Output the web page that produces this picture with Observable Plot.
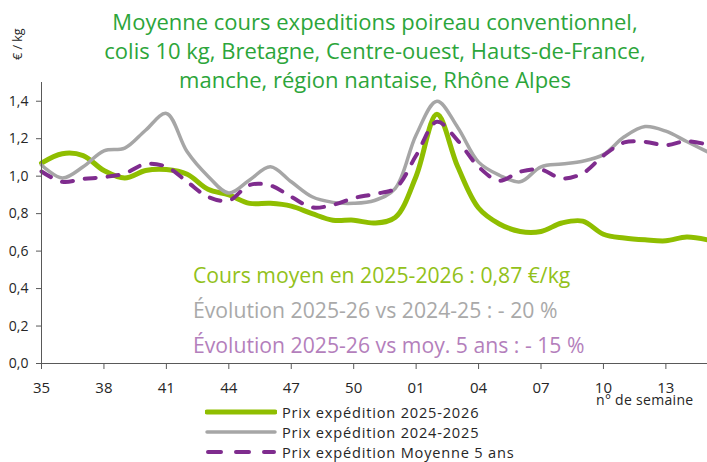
<!DOCTYPE html>
<html>
<head>
<meta charset="utf-8">
<script src="https://cdn.jsdelivr.net/npm/d3@7"></script>
<script src="https://cdn.jsdelivr.net/npm/@observablehq/plot@0.6"></script>
<style>
  html, body { margin: 0; padding: 0; background: #fff; }
  #wrap { position: relative; width: 707px; height: 462px; overflow: hidden; font-family: "Open Sans", sans-serif; }
  #chart { position: absolute; left: 0; top: 0; width: 707px; height: 462px; }
  .abs { position: absolute; white-space: nowrap; }
  #title { left: 0; width: 750px; top: 7px; text-align: center; color: #2ca53a; font-size: 22px; line-height: 29px; }
  #unit { left: 9px; top: 60px; transform: rotate(-90deg); transform-origin: left top; font-size: 12.5px; color: #262626; }
  .note { left: 193px; font-size: 21.2px; line-height: 30px; }
  #xlabel { left: 596px; top: 392px; font-size: 14px; line-height: 16px; color: #262626; letter-spacing: 0.3px; }
  .leg { left: 205px; font-size: 14.6px; line-height: 20px; letter-spacing: 0.8px; color: #262626; display: flex; align-items: center; }
  .leg svg { margin-right: 5px; }
</style>
</head>
<body>
<div id="wrap">
  <div id="chart"></div>
  <div id="title" class="abs"></div>
  <div id="unit" class="abs"></div>
  <div id="notes"></div>
  <div id="xlabel" class="abs"></div>
  <div id="legend"></div>
</div>
<script>
// ---- data ----
const weeks = ["35","36","37","38","39","40","41","42","43","44","45","46","47","48","49","50","51","52",
               "01","02","03","04","05","06","07","08","09","10","11","12","13","14","15"];
const xTicks = ["35","38","41","44","47","50","01","04","07","10","13"];
const yTicks = [0, 0.2, 0.4, 0.6, 0.8, 1.0, 1.2, 1.4];

const prix2025_2026 = [1.07, 1.12, 1.11, 1.03, 0.99, 1.03, 1.035, 1.01, 0.93, 0.90, 0.855, 0.855, 0.84, 0.80, 0.765, 0.765, 0.75,
                       0.78, 1.00, 1.33, 1.05, 0.83, 0.745, 0.705, 0.705, 0.75, 0.76, 0.69, 0.67, 0.66, 0.655, 0.675, 0.66];
const prix2024_2025 = [1.06, 0.99, 1.05, 1.135, 1.15, 1.245, 1.335, 1.13, 1.00, 0.91, 0.98, 1.05, 0.97, 0.89, 0.86, 0.855, 0.87,
                       0.935, 1.22, 1.40, 1.26, 1.075, 1.005, 0.97, 1.05, 1.065, 1.08, 1.115, 1.21, 1.265, 1.24, 1.185, 1.13];
const prixMoy5ans   = [1.025, 0.97, 0.985, 0.995, 1.015, 1.065, 1.05, 0.97, 0.89, 0.87, 0.953, 0.95, 0.89, 0.833, 0.847, 0.883, 0.905,
                       0.935, 1.11, 1.29, 1.19, 1.05, 0.976, 1.024, 1.035, 0.988, 1.015, 1.11, 1.18, 1.183, 1.165, 1.187, 1.168];

const seriesNames = ["Prix expédition 2025-2026", "Prix expédition 2024-2025", "Prix expédition Moyenne 5 ans"];
const titleLines = ["Moyenne cours expeditions poireau conventionnel,",
                    "colis 10 kg, Bretagne, Centre-ouest, Hauts-de-France,",
                    "manche, région nantaise, Rhône Alpes"];
const notes = ["Cours moyen en 2025-2026 : 0,87 €/kg",
               "Évolution 2025-26 vs 2024-25 : - 20 %",
               "Évolution 2025-26 vs moy. 5 ans : - 15 %"];
const unitLabel = "€ / kg";
const xAxisLabel = "n° de semaine";

// ---- styles ----
const GREEN = "#8fbe00", GRAY = "#a6a6a6", PURPLE = "#7f2c8e";
const styles = [
  {stroke: GREEN, strokeWidth: 5},
  {stroke: GRAY, strokeWidth: 3.5},
  {stroke: PURPLE, strokeWidth: 4, strokeDasharray: "11,12", strokeLinecap: "round"}
];
const noteColors = ["#92c11a", "#a9a9a9", "#b47fbc"];

// week position = index in the weeks list (category axis)
const toRows = arr => weeks.map((w, i) => ({pos: i, week: w, value: arr[i]}));
const allSeries = [prix2025_2026, prix2024_2025, prixMoy5ans];
const xTickPos = xTicks.map(t => weeks.indexOf(t));

const chart = Plot.plot({
  width: 707, height: 462,
  marginTop: 82, marginBottom: 99, marginLeft: 41, marginRight: 0,
  style: {fontFamily: "Open Sans, sans-serif", fontSize: "14px", color: "#262626", background: "transparent", overflow: "visible", maxWidth: "none"},
  x: {type: "linear", domain: [0, weeks.length - 1], label: null},
  y: {domain: [0, 1.5], label: null},
  marks: [
    Plot.axisY({ticks: yTicks, tickSize: 5, tickPadding: 8, tickFormat: d => d.toFixed(1).replace(".", ","), label: null, stroke: "#595959", fontSize: 14}),
    Plot.axisX({ticks: xTickPos, tickSize: 6, tickPadding: 13, tickFormat: i => weeks[i], label: null, stroke: "#595959", fontSize: 15}),
    ...allSeries.map((arr, k) => Plot.line(toRows(arr), {x: "pos", y: "value", curve: "catmull-rom", ...styles[k]})),
    Plot.ruleY([0], {stroke: "#595959"}),
    Plot.ruleX([0], {stroke: "#595959"})
  ]
});
document.getElementById("chart").append(chart);

document.getElementById("title").innerHTML = titleLines.join("<br>");
document.getElementById("unit").textContent = unitLabel;
document.getElementById("xlabel").textContent = xAxisLabel;

const notesDiv = document.getElementById("notes");
notes.forEach((t, i) => {
  const d = document.createElement("div");
  d.className = "abs note";
  d.style.top = (260 + i * 35) + "px";
  d.style.color = noteColors[i];
  d.textContent = t;
  notesDiv.append(d);
});

const legDiv = document.getElementById("legend");
seriesNames.forEach((name, i) => {
  const d = document.createElement("div");
  d.className = "abs leg";
  d.style.top = (402 + i * 20) + "px";
  const s = styles[i];
  const isDash = !!s.strokeDasharray;
  const dash = isDash ? `stroke-dasharray="13,15" stroke-linecap="round"` : `stroke-linecap="round"`;
  d.innerHTML = `<svg width="72" height="8"><line x1="${isDash ? 3 : 2}" x2="${isDash ? 69 : 70}" y1="4" y2="4" stroke="${s.stroke}" stroke-width="${s.strokeWidth}" ${dash}/></svg><span>${name}</span>`;
  legDiv.append(d);
});
</script>
</body>
</html>
